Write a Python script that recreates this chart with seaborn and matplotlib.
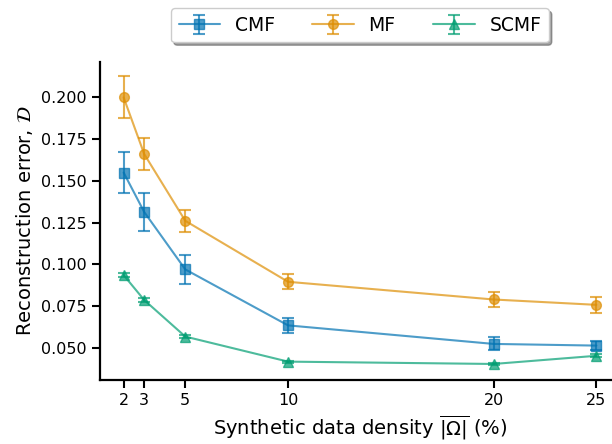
import matplotlib
matplotlib.use("Agg")
import matplotlib.pyplot as plt
import seaborn as sns

# density values (%) on the x axis
density = [2, 3, 5, 10, 20, 25]

# mean reconstruction error and error bar half-widths
cmf_mean = [0.155, 0.1314, 0.097, 0.0635, 0.0524, 0.0514]
cmf_err = [0.0125, 0.0113, 0.0087, 0.0045, 0.0039, 0.0028]
mf_mean = [0.200, 0.1661, 0.1261, 0.0896, 0.0790, 0.0758]
mf_err = [0.0126, 0.0095, 0.0067, 0.0045, 0.0047, 0.0048]
scmf_mean = [0.0936, 0.0787, 0.0568, 0.0418, 0.0404, 0.0453]
scmf_err = [0.0010, 0.0010, 0.0008, 0.0006, 0.0006, 0.0008]

labels = ["CMF", "MF", "SCMF"]
markers = ["s", "o", "^"]

sns.set_style("ticks")
plt.rcParams["text.color"] = "black"
colors = sns.color_palette("colorblind", 3)

fig = plt.figure(figsize=(6.12, 4.44), dpi=100)
ax = fig.add_axes([100 / 612, 64 / 444, 520 / 612, 318 / 444])

series = [(cmf_mean, cmf_err), (mf_mean, mf_err), (scmf_mean, scmf_err)]
for (mean, err), lab, mk, col in zip(series, labels, markers, colors):
    ax.errorbar(density, mean, yerr=err, label=lab, marker=mk, color=col,
                alpha=0.7, capsize=4, markersize=7, linewidth=1.5,
                elinewidth=1.5, capthick=1.5)

ax.set_xticks(density)
ax.set_xlim(0.85, 26.15)
ax.set_ylim(0.0308, 0.2212)
ax.set_yticks([0.050, 0.075, 0.100, 0.125, 0.150, 0.175, 0.200])
ax.tick_params(labelsize=11.5, colors="black", length=6, width=1.5)
ax.set_xlabel(r"Synthetic data density $\overline{|\Omega|}$ (%)", fontsize=14, color="black")
ax.set_ylabel(r"Reconstruction error, $\mathcal{D}$", fontsize=14, color="black")
sns.despine(ax=ax)
for side in ["left", "bottom"]:
    ax.spines[side].set_color("black")
    ax.spines[side].set_linewidth(1.6)

leg = ax.legend(loc="center", bbox_to_anchor=(0.5, 1.115), ncol=3, fontsize=13.5,
                frameon=True, shadow=True, fancybox=True, columnspacing=2.0,
                handlelength=2.2, handletextpad=0.8)
for t in leg.get_texts():
    t.set_color("black")

fig.savefig("out.png", dpi=100)
